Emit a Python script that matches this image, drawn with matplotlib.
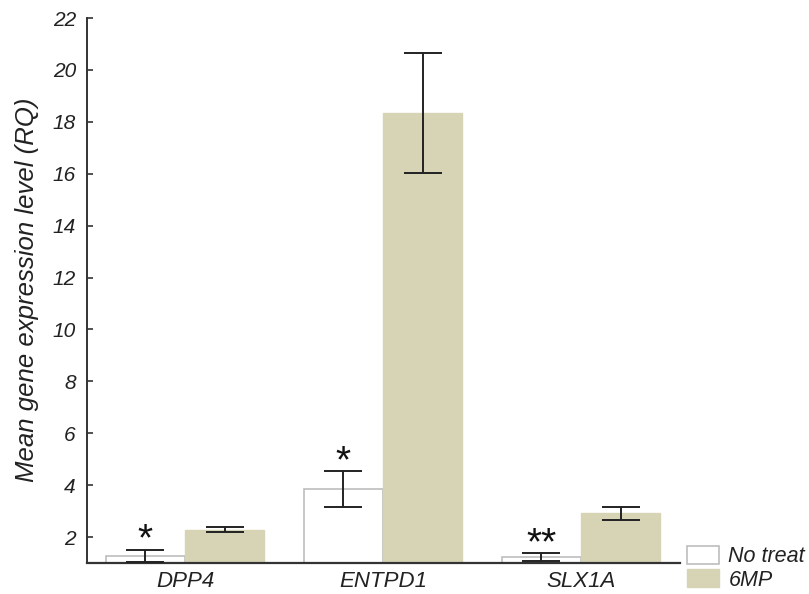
import matplotlib
matplotlib.use("Agg")
import matplotlib.pyplot as plt
import numpy as np

plt.rcParams['font.family'] = ['Liberation Sans', 'DejaVu Sans']

genes = ["DPP4", "ENTPD1", "SLX1A"]
series = ["No treat", "6MP"]
no_treat = [1.27, 3.85, 1.22]
no_treat_err = [0.25, 0.69, 0.15]
mp6 = [2.28, 18.34, 2.92]
mp6_err = [0.10, 2.33, 0.25]
stars = ["*", "*", "**"]
yticks = [2, 4, 6, 8, 10, 12, 14, 16, 18, 20, 22]

W, H = 809, 594
fig = plt.figure(figsize=(W / 100, H / 100), dpi=100)
ax = fig.add_axes([87 / W, 1 - 563 / H, (680 - 87) / W, (563 - 18) / H])

x = np.arange(len(genes))
bw = 0.40
bottom = 1.0
c_white = "white"
c_mp = "#d7d4b6"

nt_heights = [v - bottom for v in no_treat]
mp_heights = [v - bottom for v in mp6]
b1 = ax.bar(x - bw / 2, nt_heights, bw, bottom=bottom, color=c_white,
            edgecolor="#bdbdbd", linewidth=1.2, label=series[0], zorder=2)
b2 = ax.bar(x + bw / 2, mp_heights, bw, bottom=bottom, color=c_mp,
            edgecolor="#d7d4b6", linewidth=1.0, label=series[1], zorder=2)

ax.errorbar(x - bw / 2, no_treat, yerr=no_treat_err, fmt="none",
            ecolor="#222222", elinewidth=1.4, capsize=14, capthick=1.4, zorder=3)
ax.errorbar(x + bw / 2, mp6, yerr=mp6_err, fmt="none",
            ecolor="#222222", elinewidth=1.4, capsize=14, capthick=1.4, zorder=3)

for xi, v, e, s in zip(x, no_treat, no_treat_err, stars):
    ax.text(xi - bw / 2, v + e + 0.35, s, ha="center", va="center",
            fontsize=28, color="#111111")

ax.set_ylim(1, 22)
ax.set_xlim(-0.495, 2.5)
ax.set_yticks(yticks)
ax.set_yticklabels([str(t) for t in yticks], fontstyle="italic", fontsize=15)
ax.set_xticks(x)
ax.set_xticklabels(genes, fontstyle="italic", fontsize=16)
ax.tick_params(axis="y", direction="in", length=4, width=1.2, pad=8, colors="#333333",
               labelcolor="#222222")
ax.tick_params(axis="x", length=0, pad=6, labelcolor="#222222")

for sp in ["top", "right"]:
    ax.spines[sp].set_visible(False)
ax.spines["left"].set_color("#333333")
ax.spines["bottom"].set_color("#333333")
ax.spines["left"].set_linewidth(1.4)
ax.spines["bottom"].set_linewidth(1.6)

fig.text(27 / W, 1 - 290 / H, "Mean gene expression level (RQ)", rotation=90,
         ha="center", va="center", fontsize=18.5, fontstyle="italic", color="#222222")

leg = fig.legend(handles=[b1, b2], labels=series, loc="upper left",
                 bbox_to_anchor=(687 / W, 1 - 546 / H), frameon=False,
                 prop={"size": 15.5, "style": "italic"}, handlelength=1.5,
                 handleheight=0.92, labelspacing=0.08, handletextpad=0.42,
                 borderpad=0, borderaxespad=0)
for t in leg.get_texts():
    t.set_color("#222222")

fig.savefig("out.png", dpi=100)
